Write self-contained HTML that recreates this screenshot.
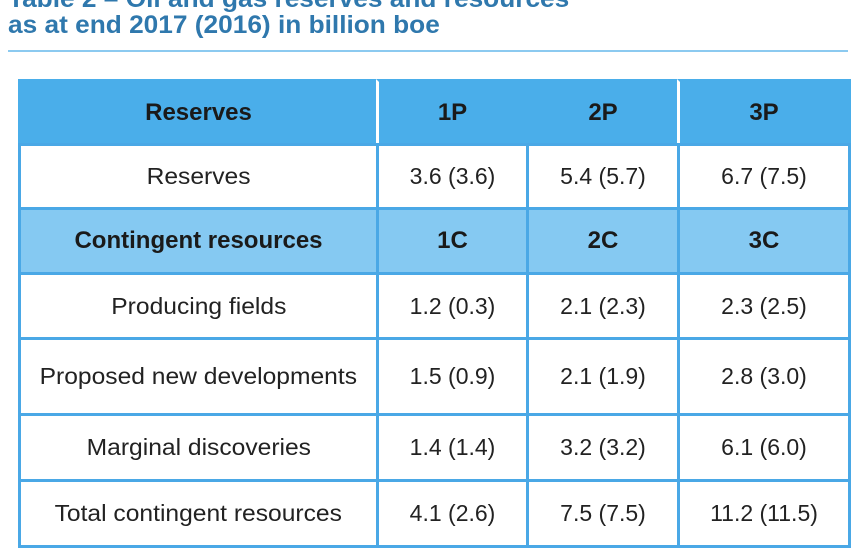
<!DOCTYPE html>
<html><head><meta charset="utf-8"><style>
body{margin:0;width:865px;height:536px;overflow:hidden;background:#fff;font-family:"Liberation Sans",sans-serif;position:relative}
.t{position:absolute;left:8px;color:#2f78ad;font-weight:bold;font-size:25px;white-space:nowrap;transform:scaleX(1.05);transform-origin:left}
.rule{position:absolute;left:8px;top:50px;width:840px;height:2px;background:#8ccaf0}
.c{position:absolute;box-sizing:border-box;display:flex;align-items:center;justify-content:center;font-size:23px;color:#222;white-space:nowrap;border:3px solid #4aa8e6}
.h{background:#4aaeea;font-weight:bold;color:#1a1a1a;font-size:24px}
.h2{background:#85c9f2;font-weight:bold;color:#1a1a1a;font-size:24px}
.c span{display:inline-block}
</style></head><body>
<div class="t" style="top:-15px">Table 2 – Oil and gas reserves and resources</div>
<div class="t" style="top:11px">as at end 2017 (2016) in billion boe</div>
<div class="rule"></div>
<div id="tbl"></div>
<script>
const rowLabels=["Reserves","Reserves","Contingent resources","Producing fields","Proposed new developments","Marginal discoveries","Total contingent resources"];
const rowValues=[["1P","2P","3P"],["3.6 (3.6)","5.4 (5.7)","6.7 (7.5)"],["1C","2C","3C"],["1.2 (0.3)","2.1 (2.3)","2.3 (2.5)"],["1.5 (0.9)","2.1 (1.9)","2.8 (3.0)"],["1.4 (1.4)","3.2 (3.2)","6.1 (6.0)"],["4.1 (2.6)","7.5 (7.5)","11.2 (11.5)"]];
const rowKinds=["h","","h2","","","",""];
const ys=[79,143,207,272,337,413,479,545];
const xs=[18,376,526,677,848];
const tbl=document.getElementById('tbl');
for(let r=0;r<rowLabels.length;r++){
  const cells=[rowLabels[r]].concat(rowValues[r]);
  for(let c=0;c<4;c++){
    const d=document.createElement('div');
    d.className='c '+rowKinds[r];
    
    
    d.style.left=xs[c]+'px';d.style.top=ys[r]+'px';
    d.style.width=(xs[c+1]-xs[c]+3)+'px';d.style.height=(ys[r+1]-ys[r]+3)+'px';
    if(r===0){d.style.borderColor='#4aaeea';if(c===1||c===3)d.style.borderLeftColor='#fff';}
    const s=document.createElement('span');
    s.textContent=cells[c];
    if(c===0&&rowKinds[r]==='')s.style.transform='scaleX(1.07)';
    d.appendChild(s);
    tbl.appendChild(d);
  }
}
</script>
</body></html>
